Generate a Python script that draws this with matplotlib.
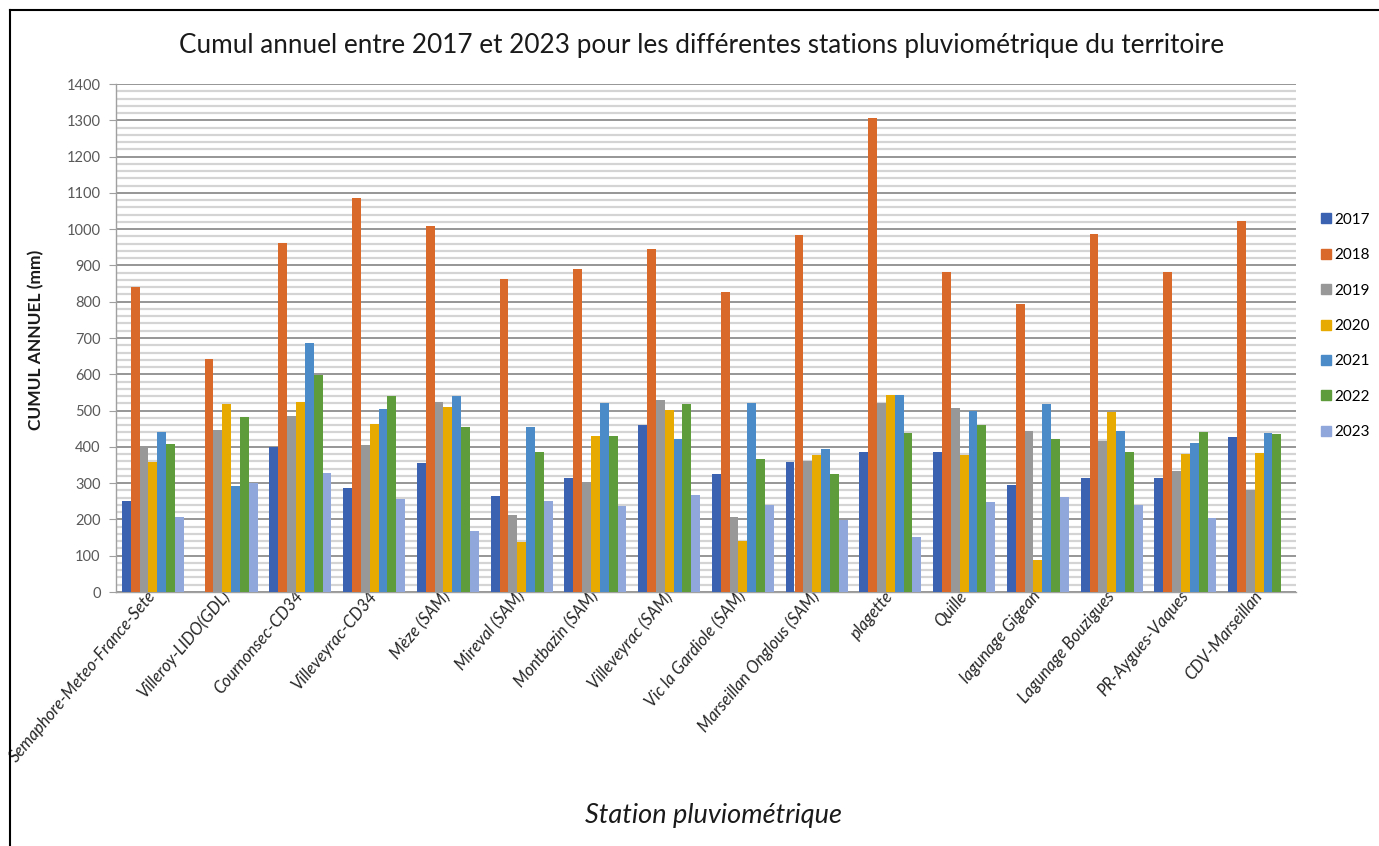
import numpy as np
import matplotlib
matplotlib.use("Agg")
import matplotlib.pyplot as plt
from matplotlib.lines import Line2D
from matplotlib.ticker import MultipleLocator

stations = [
    "Semaphore-Meteo-France-Sete", "Villeroy-LIDO(GDL)", "Cournonsec-CD34",
    "Villeveyrac-CD34", "Mèze (SAM)", "Mireval (SAM)", "Montbazin (SAM)",
    "Villeveyrac (SAM)", "Vic la Gardiole (SAM)", "Marseillan Onglous (SAM)",
    "plagette", "Quille", "lagunage Gigean", "Lagunage Bouzigues",
    "PR-Aygues-Vaques", "CDV-Marseillan",
]
years = ["2017", "2018", "2019", "2020", "2021", "2022", "2023"]

# Annual rainfall totals (mm) per station, one list per year
cumul_2017 = [251, 0, 400, 287, 356, 264, 313, 461, 325, 358, 385, 386, 295, 315, 313, 428]
cumul_2018 = [841, 643, 961, 1085, 1008, 862, 889, 946, 827, 983, 1307, 883, 794, 986, 881, 1023]
cumul_2019 = [396, 446, 484, 404, 524, 212, 301, 529, 207, 360, 520, 506, 445, 416, 333, 281]
cumul_2020 = [359, 518, 525, 464, 511, 139, 429, 502, 141, 378, 544, 378, 89, 497, 380, 384]
cumul_2021 = [441, 293, 687, 505, 541, 456, 521, 421, 522, 393, 542, 499, 517, 445, 412, 437]
cumul_2022 = [409, 482, 597, 540, 454, 385, 429, 518, 366, 325, 439, 459, 423, 387, 442, 435]
cumul_2023 = [207, 301, 327, 256, 169, 251, 237, 268, 240, 198, 152, 249, 261, 240, 205, 0]

series = [cumul_2017, cumul_2018, cumul_2019, cumul_2020, cumul_2021, cumul_2022, cumul_2023]
colors = ["#3A62B0", "#D9692B", "#989898", "#E6AA00", "#4A8BC8", "#5E9B3B", "#8FA7DA"]

W, H, DPI = 1379, 846, 100
fig = plt.figure(figsize=(W / DPI, H / DPI), dpi=DPI)
fig.patch.set_facecolor("white")

def fx(px):
    return px / W

def fy(py):
    return 1 - py / H

left, right, top, bottom = 116, 1296, 84, 592
ax = fig.add_axes([fx(left), fy(bottom), fx(right - left), (bottom - top) / H])

n = len(stations)
x = np.arange(n)
bw = 0.12
for i, (vals, c) in enumerate(zip(series, colors)):
    ax.bar(x + (i - 3) * bw, vals, width=bw, color=c, label=years[i], zorder=3)

ax.set_xlim(-0.5, n - 0.5)
ax.set_ylim(0, 1400)
ax.yaxis.set_major_locator(MultipleLocator(100))
ax.yaxis.set_minor_locator(MultipleLocator(20))
ax.grid(which="major", axis="y", color="#8E8E8E", linewidth=1.3, zorder=1)
ax.grid(which="minor", axis="y", color="#D4D4D4", linewidth=1.6, zorder=0)
ax.set_axisbelow(True)

for s in ["top", "right"]:
    ax.spines[s].set_visible(False)
ax.spines["left"].set_color("#A0A0A0")
ax.spines["bottom"].set_color("#A0A0A0")
ax.spines["left"].set_linewidth(1.0)
ax.spines["bottom"].set_linewidth(1.0)

ax.tick_params(axis="y", which="major", length=5, color="#A0A0A0", labelsize=10.5,
               labelcolor="#595959", pad=6)
ax.tick_params(axis="y", which="minor", length=0)
ax.tick_params(axis="x", length=0, pad=1)
for lab in ax.get_yticklabels():
    lab.set_family("Lato")

ax.set_xticks(x)
ax.set_xticklabels(stations, rotation=50, ha="right", va="center", rotation_mode="anchor",
                   fontsize=12, fontstyle="italic", family="Lato", color="#262626")

fig.text(fx(702), fy(45), "Cumul annuel entre 2017 et 2023 pour les différentes stations pluviométrique du territoire",
         ha="center", va="center", fontsize=18.8, family="Lato", color="#1a1a1a")
fig.text(fx(36), fy(340), "CUMUL ANNUEL (mm)", rotation=90, ha="center", va="center",
         fontsize=12.5, fontweight="bold", family="Lato", color="#1a1a1a")
fig.text(fx(713), fy(815), "Station pluviométrique", ha="center", va="center",
         fontsize=19.5, fontstyle="italic", family="Lato", color="#1a1a1a")

handles = [Line2D([0], [0], marker="s", linestyle="", markersize=7, markerfacecolor=c,
                  markeredgecolor=c) for c in colors]
leg = fig.legend(handles, years, loc="center left", bbox_to_anchor=(fx(1316), fy(326)),
                 frameon=False, labelspacing=1.4, handletextpad=0.1,
                 handlelength=0.9, borderpad=0.2, borderaxespad=0,
                 prop={"family": "Lato", "size": 11})

# outer frame lines
fig.add_artist(Line2D([fx(10), fx(10)], [0, fy(10)], color="black", linewidth=1.5))
fig.add_artist(Line2D([fx(10), 1], [fy(10), fy(10)], color="black", linewidth=1.5))

fig.savefig("out.png", dpi=DPI, facecolor="white")
